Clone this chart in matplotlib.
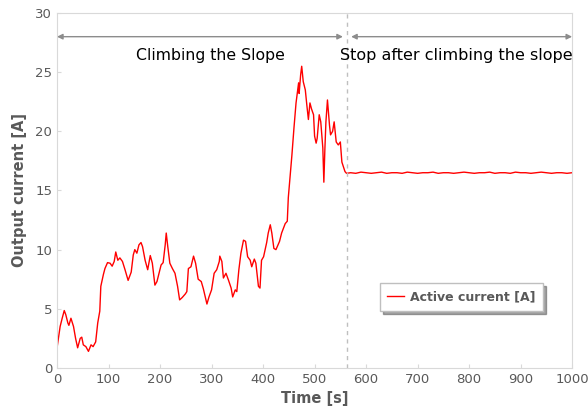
import matplotlib.pyplot as plt
import numpy as np

# time [s] and active current [A]
timeSec = [0, 3, 6, 10, 14, 17, 21, 23, 27, 32, 36, 40, 45, 48, 51, 56, 61, 66, 70, 75,
           79, 83, 85, 90, 93, 98, 103, 107, 111, 114, 118, 122, 127, 132, 138, 144, 148, 151, 155, 159,
           163, 166, 171, 176, 181, 185, 190, 194, 198, 202, 206, 210, 212, 215, 219, 224, 229, 234, 238, 243,
           249, 252, 255, 260, 265, 269, 274, 280, 284, 291, 295, 300, 305, 310, 315, 316, 320, 323, 328, 333,
           338, 341, 346, 349, 353, 357, 362, 366, 370, 375, 378, 383, 386, 391, 394, 397, 401, 407, 410, 414,
           417, 421, 425, 432, 436, 443, 447, 449, 452, 456, 460, 464, 469, 470, 473, 475, 478, 482, 485, 488,
           491, 494, 498, 500, 503, 505, 509, 512, 516, 518, 520, 522, 525, 529, 531, 535, 538, 542, 546, 550,
           553, 556, 559, 562,
           570, 580, 590, 600, 610, 620, 630, 640, 650, 660, 670, 680, 690, 700, 710, 720, 730, 740, 750, 760,
           770, 780, 790, 800, 810, 820, 830, 840, 850, 860, 870, 880, 890, 900, 910, 920, 930, 940, 950, 960,
           970, 980, 990, 1000]
activeCurrent = [1.7, 2.6, 3.5, 4.2, 4.85, 4.5, 3.8, 3.6, 4.2, 3.5, 2.5, 1.7, 2.5, 2.6, 1.95, 1.8, 1.4, 1.95, 1.8, 2.2,
                 3.8, 4.8, 6.9, 7.9, 8.4, 8.9, 8.85, 8.6, 9.0, 9.8, 9.1, 9.3, 9.0, 8.3, 7.4, 8.1, 9.55, 10.0, 9.7, 10.4,
                 10.6, 10.25, 9.1, 8.3, 9.5, 8.85, 7.0, 7.3, 8.0, 8.7, 8.9, 10.4, 11.4, 10.25, 8.85, 8.4, 8.0, 6.9, 5.75, 5.95,
                 6.25, 6.45, 8.4, 8.55, 9.45, 8.85, 7.5, 7.3, 6.7, 5.4, 6.0, 6.6, 8.0, 8.3, 9.0, 9.45, 9.0, 7.6, 8.0, 7.4,
                 6.75, 6.0, 6.6, 6.45, 8.3, 9.7, 10.8, 10.7, 9.4, 9.1, 8.55, 9.2, 8.85, 6.9, 6.75, 9.1, 9.4, 10.6, 11.4, 12.1,
                 11.4, 10.1, 10.0, 10.7, 11.4, 12.2, 12.4, 14.4, 15.9, 18.0, 20.3, 22.4, 24.1, 23.2, 24.8, 25.5, 24.2, 23.5, 22.2, 21.0,
                 22.4, 21.9, 21.4, 19.6, 19.0, 19.4, 21.4, 20.8, 18.6, 15.7, 18.5, 20.8, 22.65, 20.5, 19.7, 20.0, 20.8, 19.1, 18.85, 19.1,
                 17.4, 17.0, 16.6, 16.45,
                 16.5, 16.45, 16.55, 16.5, 16.45, 16.5, 16.55, 16.45, 16.5, 16.5, 16.45, 16.55, 16.5, 16.45, 16.5, 16.5, 16.55, 16.45, 16.5, 16.5,
                 16.45, 16.5, 16.55, 16.5, 16.45, 16.5, 16.5, 16.55, 16.45, 16.5, 16.5, 16.45, 16.55, 16.5, 16.5, 16.45, 16.5, 16.55, 16.5, 16.45,
                 16.5, 16.5, 16.45, 16.5]

xTicks = [0, 100, 200, 300, 400, 500, 600, 700, 800, 900, 1000]
yTicks = [0, 5, 10, 15, 20, 25, 30]
stopTime = 563
phaseLabels = ["Climbing the Slope", "Stop after climbing the slope"]

gray = "#595959"
fig = plt.figure(figsize=(5.88, 4.2), dpi=100)
ax = fig.add_axes([0.097, 0.124, 0.876, 0.845])

ax.plot(timeSec, activeCurrent, color="red", linewidth=1.0, label="Active current [A]")
ax.axvline(stopTime, color="#bfbfbf", linestyle=(0, (3, 3)), linewidth=1.0)

# phase arrows
arrowProps = dict(arrowstyle="<|-|>", color="#8c8c8c", linewidth=1.0, mutation_scale=8,
                  shrinkA=0, shrinkB=0)
ax.annotate("", xy=(0, 28), xytext=(stopTime - 8, 28), arrowprops=arrowProps)
ax.annotate("", xy=(stopTime + 8, 28), xytext=(1000, 28), arrowprops=arrowProps)
ax.text(297, 26.4, phaseLabels[0], ha="center", va="center", fontsize=11.3, color="black")
ax.text(776, 26.4, phaseLabels[1], ha="center", va="center", fontsize=11.5, color="black")

ax.set_xlim(0, 1000)
ax.set_ylim(0, 30)
ax.set_xticks(xTicks)
ax.set_yticks(yTicks)
ax.tick_params(direction="in", length=3, color="#d9d9d9", labelcolor=gray, labelsize=9.5)
for s in ax.spines.values():
    s.set_color("#d9d9d9")

ax.set_xlabel("Time [s]", fontsize=10.5, fontweight="bold", color=gray, labelpad=4)
ax.set_ylabel("Output current [A]", fontsize=10.5, fontweight="bold", color=gray, labelpad=6)

leg = ax.legend(loc="upper left", bbox_to_anchor=(0.627, 0.24), borderaxespad=0, fancybox=False,
                shadow=True, edgecolor="#bfbfbf", fontsize=9, handlelength=1.3, handletextpad=0.5,
                borderpad=0.6)
for t in leg.get_texts():
    t.set_fontweight("bold")
    t.set_color(gray)

fig.savefig("out.png", dpi=100)
